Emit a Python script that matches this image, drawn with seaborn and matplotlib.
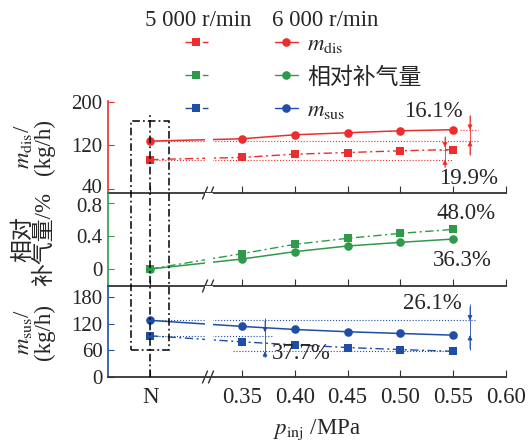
import numpy as np
import pandas as pd
import matplotlib
matplotlib.use("Agg")
import matplotlib.pyplot as plt
import matplotlib.transforms as mtransforms
import seaborn as sns
from matplotlib.patches import Rectangle
from matplotlib.lines import Line2D

sns.set_theme(style="white")
plt.rcParams['font.family'] = ['Liberation Serif', 'Noto Sans CJK SC']
plt.rcParams['mathtext.fontset'] = 'stix'

# ---------------- data ----------------
categories = ['N', '0.35', '0.40', '0.45', '0.50', '0.55']
p_inj = [0.35, 0.40, 0.45, 0.50, 0.55]
mdis_5000 = [94.0, 98.0, 104.0, 107.0, 110.2, 112.6]
mdis_6000 = [128.0, 132.3, 139.7, 143.4, 147.0, 149.0]
rel_5000 = [0.0, 0.186, 0.299, 0.372, 0.432, 0.480]
rel_6000 = [0.0, 0.121, 0.210, 0.279, 0.323, 0.363]
msus_5000 = [92.8, 79.2, 72.4, 66.4, 61.8, 57.8]
msus_6000 = [127.5, 113.9, 107.0, 101.9, 98.0, 94.2]
xtick_labels = ['N', '0.35', '0.40', '0.45', '0.50', '0.55', '0.60']
xtick_values = [0.35, 0.40, 0.45, 0.50, 0.55, 0.60]
pct_dis = ['16.1%', '19.9%']
pct_rel = ['48.0%', '36.3%']
pct_sus = ['26.1%', '37.7%']

# ---------------- layout / style ----------------
N_POS = 0.263
xpos = [N_POS] + p_inj
RED = '#ec2d2d'
GREEN = '#2f9a4a'
BLUE = '#1f4ea6'
DASHDOT = (0, (6, 2.5, 1.5, 2.5))
FS = 16.5
TFS = 15
W, H = 528, 445

fig = plt.figure(figsize=(W / 100, H / 100), dpi=100)
L = 108 / W
AW = (506 - 108) / W
ax_top = fig.add_axes([L, 1 - 193 / H, AW, (193 - 101) / H])
ax_mid = fig.add_axes([L, 1 - 286 / H, AW, (286 - 193) / H])
ax_bot = fig.add_axes([L, 1 - 377 / H, AW, (377 - 286) / H])

panels = [
    (ax_top, mdis_5000, mdis_6000, RED, (32.6, 201.8), [40, 120, 200], ['40', '120', '200']),
    (ax_mid, rel_5000, rel_6000, GREEN, (-0.206, 0.921), [0, 0.4, 0.8], ['0', '0.4', '0.8']),
    (ax_bot, msus_5000, msus_6000, BLUE, (0, 204.9), [0, 60, 120, 180], ['0', '60', '120', '180']),
]

for ax, y5, y6, col, ylim, yt, ytl in panels:
    df = pd.DataFrame({'x': xpos, 'r5000': y5, 'r6000': y6, 'cat': categories})
    sns.lineplot(data=df, x='x', y='r6000', ax=ax, color=col, marker='o',
                 markersize=6.2, markeredgewidth=0, lw=1.1, linestyle='-', zorder=3)
    sns.lineplot(data=df, x='x', y='r5000', ax=ax, color=col, marker='s',
                 markersize=5.2, markeredgewidth=0, lw=1.0, linestyle=DASHDOT, zorder=3)
    ax.set_xlim(0.2231, 0.60)
    ax.set_ylim(*ylim)
    ax.set_yticks(yt)
    ax.set_yticklabels(ytl)
    ax.set_xticks([N_POS] + xtick_values)
    ax.set_xlabel('')
    ax.set_facecolor('none')
    for s in ['top', 'right']:
        ax.spines[s].set_visible(False)
    ax.spines['left'].set_color(col)
    ax.spines['left'].set_linewidth(1.2)
    ax.spines['bottom'].set_color('#333333')
    ax.spines['bottom'].set_linewidth(1.3)
    ax.spines['bottom'].set_zorder(5)
    ax.tick_params(axis='y', direction='in', length=4, width=0.8, color=col,
                   labelsize=TFS, pad=4, left=True)
    ax.tick_params(axis='x', direction='in', length=5, width=0.8, color='#333333',
                   labelsize=FS, pad=7, bottom=True)
    # white gap in the curves at the axis break
    ax.axvspan(0.3153, 0.3229, color='white', lw=0, zorder=4)
    # break marks "//"
    hpx = ax.get_position().height * H
    dy = 6 / hpx
    for cx in [205, 211]:
        xa = (cx - 108) / 398
        dx = 2.5 / 398
        ax.plot([xa - dx, xa + dx], [-dy, dy], color='#333333', lw=1.0,
                transform=ax.transAxes, clip_on=False, zorder=6)

for ax in (ax_top, ax_mid):
    ax.set_xticklabels([])
ax_bot.set_xticklabels(xtick_labels)

# nudge the two crowded y tick labels at the panel joint apart
lbl40 = ax_top.get_yticklabels()[0]
lbl40.set_transform(lbl40.get_transform() + mtransforms.ScaledTranslation(0, 3 / 100, fig.dpi_scale_trans))
lbl08 = ax_mid.get_yticklabels()[-1]
lbl08.set_transform(lbl08.get_transform() + mtransforms.ScaledTranslation(0, -2 / 100, fig.dpi_scale_trans))

# axis labels
ax_top.set_ylabel('$m_{\\rm dis}$/\n(kg/h)', fontsize=FS, linespacing=1.0, multialignment='center')
ax_mid.set_ylabel('相对\n补气量/%', fontsize=FS, linespacing=1.0, multialignment='center')
ax_bot.set_ylabel('$m_{\\rm sus}$/\n(kg/h)', fontsize=FS, linespacing=1.0, multialignment='center')
for ax in (ax_top, ax_mid, ax_bot):
    ax.yaxis.set_label_coords(-0.133, 0.5)
ax_bot.set_xlabel('$p_{\\rm inj}$ /MPa', fontsize=FS)
ax_bot.xaxis.set_label_coords(0.525, -0.44)

# ---------------- reference lines & arrows ----------------
DOT = dict(ls=':', lw=0.8, zorder=2)

def arrow(ax, x, y_from, y_to, col):
    ax.annotate('', xy=(x, y_to), xytext=(x, y_from),
                arrowprops=dict(arrowstyle='-|>', lw=0.6, color=col,
                                mutation_scale=7, shrinkA=0, shrinkB=0), zorder=3)

# top panel
ax_top.hlines(mdis_6000[0], N_POS, 0.5735, color=RED, **DOT)
ax_top.hlines(mdis_6000[-1], 0.5564, 0.5735, color=RED, **DOT)
ax_top.vlines(0.5659, mdis_6000[0] - 25, mdis_6000[-1] + 27, color=RED, lw=0.6)
arrow(ax_top, 0.5659, mdis_6000[-1] + 25, mdis_6000[-1], RED)
arrow(ax_top, 0.5659, mdis_6000[0] - 25, mdis_6000[0], RED)
ax_top.hlines(mdis_5000[0], N_POS, 0.5498, color=RED, **DOT)
ax_top.hlines(mdis_5000[-1], 0.5375, 0.5498, color=RED, **DOT)
ax_top.vlines(0.5422, mdis_5000[0] - 14, mdis_5000[-1] + 25, color=RED, lw=0.6)
arrow(ax_top, 0.5422, mdis_5000[-1] + 22, mdis_5000[-1] + 4, RED)
arrow(ax_top, 0.5422, mdis_5000[0] - 14, mdis_5000[0], RED)
ax_top.text(0.5309, 181.6, pct_dis[0], fontsize=FS, ha='center', va='center')
ax_top.text(0.5650, 58.4, pct_dis[1], fontsize=FS, ha='center', va='center')

# middle panel
ax_mid.text(0.5621, 0.667, pct_rel[0], fontsize=FS, ha='center', va='center')
ax_mid.text(0.5583, 0.097, pct_rel[1], fontsize=FS, ha='center', va='center')

# bottom panel
ax_bot.hlines(msus_6000[0], N_POS, 0.5716, color=BLUE, **DOT)
ax_bot.vlines(0.5659, msus_6000[-1] - 33, msus_6000[0] + 36, color=BLUE, lw=0.6)
arrow(ax_bot, 0.5659, msus_6000[0] + 30, msus_6000[0], BLUE)
arrow(ax_bot, 0.5659, msus_6000[-1] - 30, msus_6000[-1], BLUE)
ax_bot.hlines(msus_5000[0], N_POS, 0.3794, color=BLUE, **DOT)
ax_bot.hlines(msus_5000[-1], 0.3415, 0.5498, color=BLUE, **DOT)
ax_bot.vlines(0.3718, msus_5000[-1] - 13, msus_5000[0] + 41, color=BLUE, lw=0.6)
arrow(ax_bot, 0.3718, msus_5000[0] + 34, msus_5000[0] + 8, BLUE)
arrow(ax_bot, 0.3718, msus_5000[-1] - 13, msus_5000[-1], BLUE)
ax_bot.text(0.5299, 165.3, pct_sus[0], fontsize=FS, ha='center', va='center')
ax_bot.text(0.4059, 52.1, pct_sus[1], fontsize=FS, ha='center', va='center')

# ---------------- dash-dot box around N ----------------
ax_bot.add_patch(Rectangle((0.2449, 60), 0.2809 - 0.2449, 577 - 60, fill=False,
                           ec='black', lw=1.1, ls=(0, (5, 2, 1.2, 2)), clip_on=False, zorder=7))
ax_bot.axvline(N_POS, ymin=0, ymax=595 / 204.9, color='black', lw=1.1,
               ls=(0, (5, 2, 1.2, 2)), clip_on=False, zorder=7)

# ---------------- legend ----------------
def h(col, ls, mk, ms):
    return Line2D([], [], color=col, ls=ls, lw=1.0, marker=mk, markersize=ms, markeredgewidth=0)

handles = [h(RED, DASHDOT, 's', 5.2), h(GREEN, DASHDOT, 's', 5.2), h(BLUE, DASHDOT, 's', 5.2),
           h(RED, '-', 'o', 6.2), h(GREEN, '-', 'o', 6.2), h(BLUE, '-', 'o', 6.2)]
labels = ['', '', '', '$m_{\\rm dis}$', '相对补气量', '$m_{\\rm sus}$']
fig.legend(handles, labels, ncol=2, loc='upper left', bbox_to_anchor=(185 / W, 1 - 34 / H),
           frameon=False, fontsize=FS, handlelength=1.0, handletextpad=0.42,
           columnspacing=2.5, labelspacing=0.52, borderpad=0, borderaxespad=0)
fig.text(198 / W, 1 - 20 / H, '5 000 r/min', fontsize=FS, ha='center', va='center')
fig.text(325 / W, 1 - 20 / H, '6 000 r/min', fontsize=FS, ha='center', va='center')

fig.savefig('out.png', dpi=100)
